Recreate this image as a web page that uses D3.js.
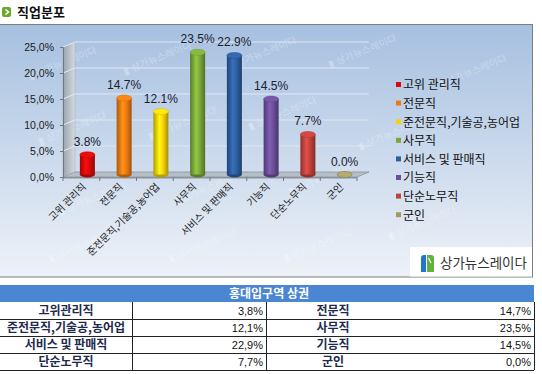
<!DOCTYPE html>
<html>
<head>
<meta charset="utf-8">
<script src="https://cdn.jsdelivr.net/npm/d3@7"></script>
<style>
  body { margin: 0; background: #fff; }
  svg { display: block; }
  text { font-family: "Liberation Sans", Arial, "Noto Sans CJK KR", sans-serif; }
  .kr { font-family: "Noto Sans CJK KR", "Noto Sans", sans-serif; }
</style>
</head>
<body>
<div id="chart"></div>
<script>
// 데이터
const categories = ["고위 관리직", "전문직", "준전문직,기술공,농어업", "사무직", "서비스 및 판매직", "기능직", "단순노무직", "군인"];
const values = [3.8, 14.7, 12.1, 23.5, 22.9, 14.5, 7.7, 0.0];
const tableLabels = ["고위관리직", "전문직", "준전문직,기술공,농어업", "사무직", "서비스 및 판매직", "기능직", "단순노무직", "군인"];
const colors = ["#d80a0a", "#f07a12", "#f6d20a", "#7aa838", "#2d5e9e", "#6b4f98", "#c0423c", "#a39a62"];
const yTicks = [0, 5, 10, 15, 20, 25];
const chartTitle = "직업분포";
const tableTitle = "홍대입구역 상권";
const brand = "상가뉴스레이다";

const width = 542, height = 374;
const svg = d3.select("#chart").append("svg")
  .attr("width", width).attr("height", height);
const defs = svg.append("defs");

// 배경 그라데이션
const bg = defs.append("linearGradient").attr("id", "bg").attr("x1", 0).attr("y1", 0).attr("x2", 0).attr("y2", 1);
bg.append("stop").attr("offset", "0%").attr("stop-color", "#a6c0e0");
bg.append("stop").attr("offset", "100%").attr("stop-color", "#eef2f8");

const wall = defs.append("linearGradient").attr("id", "wall").attr("x1", 0).attr("y1", 0).attr("x2", 1).attr("y2", 0);
wall.append("stop").attr("offset", "0%").attr("stop-color", "#9aa4ae");
wall.append("stop").attr("offset", "100%").attr("stop-color", "#d4dae0");

// 실린더 그라데이션
colors.forEach((c, i) => {
  const g = defs.append("linearGradient").attr("id", "cyl" + i).attr("x1", 0).attr("y1", 0).attr("x2", 1).attr("y2", 0);
  const base = d3.color(c);
  g.append("stop").attr("offset", "0%").attr("stop-color", base.darker(0.9));
  g.append("stop").attr("offset", "40%").attr("stop-color", base.brighter(0.5));
  g.append("stop").attr("offset", "65%").attr("stop-color", base);
  g.append("stop").attr("offset", "100%").attr("stop-color", base.darker(1.1));
});

// 제목
const icon = svg.append("g").attr("transform", "translate(2,7)");
icon.append("rect").attr("width", 9).attr("height", 10).attr("rx", 2).attr("fill", "#6aaa2a");
icon.append("path").attr("d", "M3.5,2.5 L6.5,5 L3.5,7.5").attr("fill", "none").attr("stroke", "#fff").attr("stroke-width", 1.6);
svg.append("text").attr("class", "kr").attr("x", 17).attr("y", 17)
  .attr("font-size", 13).attr("font-weight", "bold").attr("fill", "#111").text(chartTitle);

// 패널
svg.append("rect").attr("x", -1).attr("y", 24.5).attr("width", 533.5).attr("height", 252.5)
  .attr("fill", "url(#bg)").attr("stroke", "#7d7d7d");

// 워터마크
const marks = [[30, 80], [125, 75], [230, 70], [330, 68], [440, 88], [40, 145], [150, 140], [250, 130], [360, 150], [60, 215], [175, 205], [290, 195], [390, 240], [50, 262], [170, 262], [285, 262]];
marks.forEach(([x, y]) => {
  svg.append("text").attr("class", "kr").attr("transform", `translate(${x},${y}) rotate(-22)`)
    .attr("font-size", 10).attr("fill", "#ffffff").attr("opacity", 0.3).text("▮ " + brand);
});

// 스케일
const dx = 12, dy = -5;
const x = d3.scaleBand().domain(categories).range([63, 357]);
const y = d3.scaleLinear().domain([0, 25]).range([177, 47]);

const plot = svg.append("g");

// 왼쪽 벽
plot.append("path")
  .attr("d", `M63,${y(25)} L${63 + dx},${y(25) + dy} L${63 + dx},${y(0) + dy} L63,${y(0)} Z`)
  .attr("fill", "url(#wall)").attr("stroke", "#a0a8b0").attr("stroke-width", 0.5);

// 그리드
yTicks.forEach(t => {
  plot.append("line").attr("x1", 63).attr("y1", y(t)).attr("x2", 63 + dx).attr("y2", y(t) + dy)
    .attr("stroke", "#e6ebf2").attr("stroke-width", 1);
  if (t > 0) plot.append("line").attr("x1", 63 + dx).attr("x2", 357 + dx)
    .attr("y1", y(t) + dy).attr("y2", y(t) + dy)
    .attr("stroke", "#dfe7f1").attr("stroke-width", 1);
});

// 바닥
plot.append("path")
  .attr("d", `M63,${y(0)} L${63 + dx},${y(0) + dy} L${357 + dx},${y(0) + dy} L357,${y(0)} Z`)
  .attr("fill", "#b6bec8").attr("stroke", "#8a929c").attr("stroke-width", 0.8);
plot.append("rect").attr("x", 63).attr("y", y(0)).attr("width", 294).attr("height", 1.5).attr("fill", "#8a929c");

// 실린더
const bw = 15, ry = 3;
const cx = d => x(d) + x.bandwidth() / 2 + dx / 2;
const baseY = y(0) + dy / 2;
const bars = plot.selectAll(".bar").data(categories.map((c, i) => ({ c, v: values[i], i })))
  .enter().append("g").attr("class", "bar");
bars.append("ellipse")
  .attr("cx", d => cx(d.c)).attr("cy", baseY).attr("rx", bw / 2).attr("ry", ry)
  .attr("fill", d => d3.color(colors[d.i]).darker(0.8));
bars.append("rect")
  .attr("x", d => cx(d.c) - bw / 2).attr("width", bw)
  .attr("y", d => y(d.v) + dy / 2).attr("height", d => baseY - (y(d.v) + dy / 2))
  .attr("fill", d => `url(#cyl${d.i})`);
bars.append("ellipse")
  .attr("cx", d => cx(d.c)).attr("cy", d => y(d.v) + dy / 2).attr("rx", bw / 2).attr("ry", ry)
  .attr("fill", d => d3.color(colors[d.i]).brighter(0.3))
  .attr("stroke", d => d3.color(colors[d.i]).darker(0.4)).attr("stroke-width", 0.5);

// 값 레이블
bars.append("text")
  .attr("x", d => cx(d.c)).attr("y", d => y(d.v) + dy / 2 - 9)
  .attr("text-anchor", "middle").attr("font-size", 12).attr("fill", "#1c2030")
  .text(d => d.v.toFixed(1) + "%");

// Y축
const yAxis = svg.append("g").attr("transform", "translate(63,0)")
  .call(d3.axisLeft(y).tickValues(yTicks).tickSize(3).tickPadding(6)
    .tickFormat(d => d.toFixed(1).replace(".", ",") + "%"));
yAxis.select(".domain").attr("stroke", "#707880");
yAxis.selectAll(".tick line").attr("stroke", "#707880");
yAxis.selectAll("text").attr("font-size", 10.5).attr("fill", "#1a1a1a")
  .attr("font-family", "'Liberation Sans', Arial, sans-serif");

// X축 눈금 (구간 경계)
const bounds = categories.map(c => x(c)).concat([357]);
svg.selectAll(".xt").data(bounds).enter().append("line")
  .attr("x1", d => d).attr("x2", d => d).attr("y1", y(0)).attr("y2", y(0) + 4)
  .attr("stroke", "#707880");

svg.selectAll(".xl").data(categories).enter().append("text").attr("class", "kr")
  .attr("transform", d => `translate(${x(d) + x.bandwidth() / 2 + 3},${y(0) + 8}) rotate(-45)`)
  .attr("text-anchor", "end").attr("dy", "0.35em")
  .attr("font-size", 10).attr("fill", "#1a1a1a").text(d => d);

// 범례
const legend = svg.append("g").attr("transform", "translate(396,85)");
categories.forEach((c, i) => {
  const g = legend.append("g").attr("transform", `translate(0,${i * 18.6})`);
  g.append("rect").attr("x", 0).attr("y", -3).attr("width", 5).attr("height", 5).attr("fill", colors[i]);
  g.append("text").attr("class", "kr").attr("x", 7).attr("dy", "0.36em")
    .attr("font-size", 12).attr("fill", "#111").text(c);
});

// 로고 박스
const logo = svg.append("g");
logo.append("rect").attr("x", 410).attr("y", 247).attr("width", 122).attr("height", 29.5).attr("fill", "#fff");
logo.append("path").attr("d", "M421,258 Q421,255 424,255 L426,255 L426,272 L421,272 Z").attr("fill", "#1f79c8");
logo.append("path").attr("d", "M427,255 L431,255 Q434,255 434,258 L434,272 L427,272 Z").attr("fill", "#5fb23a");
logo.append("path").attr("d", "M428.5,258 L431,263").attr("stroke", "#fff").attr("stroke-width", 1.2);
logo.append("text").attr("class", "kr").attr("x", 440).attr("y", 268)
  .attr("font-size", 13.5).attr("fill", "#333").text(brand);

// 표
const tx = 0, tw = 534, ty = 285, headH = 17, rowH = 17;
const colX = [0, 132, 266, 400, 534];
svg.append("rect").attr("x", tx).attr("y", ty).attr("width", tw).attr("height", headH).attr("fill", "#4a86d2");
svg.append("text").attr("class", "kr").attr("x", tw / 2 + 2).attr("y", ty + 13)
  .attr("text-anchor", "middle").attr("font-size", 12).attr("font-weight", "bold").attr("fill", "#fff").text(tableTitle);

const rows = d3.range(4).map(r => [r * 2, r * 2 + 1]);
const table = svg.append("g");
rows.forEach((pair, r) => {
  const top = ty + headH + r * rowH;
  pair.forEach((idx, k) => {
    const lx = colX[k * 2], vx = colX[k * 2 + 1], ex = colX[k * 2 + 2];
    table.append("text").attr("class", "kr").attr("x", (lx + vx) / 2).attr("y", top + 13)
      .attr("text-anchor", "middle").attr("font-size", 12).attr("font-weight", "bold")
      .attr("fill", "#1d2a4d").text(tableLabels[idx]);
    table.append("text").attr("x", ex - 3).attr("y", top + 12.5)
      .attr("text-anchor", "end").attr("font-size", 11).attr("fill", "#111")
      .text(values[idx].toFixed(1).replace(".", ",") + "%");
  });
  table.append("line").attr("x1", 0).attr("x2", tw).attr("y1", top + rowH + 0.5).attr("y2", top + rowH + 0.5)
    .attr("stroke", "#222");
});
[132, 266, 534].forEach(cxv => {
  table.append("line").attr("x1", cxv + 0.5).attr("x2", cxv + 0.5)
    .attr("y1", ty + headH).attr("y2", ty + headH + 4 * rowH).attr("stroke", "#222");
});
</script>
</body>
</html>
